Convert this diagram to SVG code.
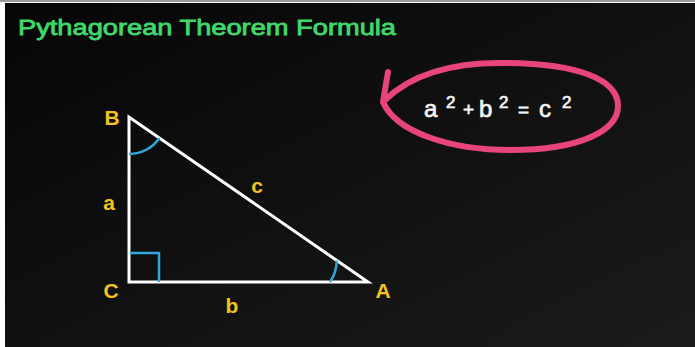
<svg xmlns="http://www.w3.org/2000/svg" width="695" height="347" viewBox="0 0 695 347">
  <defs>
    <linearGradient id="bg" x1="0" y1="0" x2="1" y2="1">
      <stop offset="0" stop-color="#060606"/>
      <stop offset="1" stop-color="#1b1b1b"/>
    </linearGradient>
    <style>
      .lbl { font-family: "Liberation Sans", Arial, sans-serif; font-size: 21px; font-weight: bold; fill: #f2c21e; text-anchor: middle; }
      .side { stroke: #ffffff; stroke-width: 3; fill: none; stroke-linecap: round; stroke-linejoin: miter; }
      .ang { stroke: #2fa8dc; stroke-width: 2.5; fill: none; }
      .fx { font-family: "Liberation Sans", Arial, sans-serif; font-size: 24px; fill: #f4f4f4; stroke: #f4f4f4; stroke-width: 0.7; }
      .sup { font-size: 17px; }
      .op { font-size: 19px; }
    </style>
  </defs>
  <rect x="0" y="0" width="695" height="347" fill="#ffffff"/>
  <rect x="5" y="3" width="690" height="344" fill="url(#bg)"/>
  <rect x="0" y="0" width="695" height="2" fill="#9a9a9a"/>

  <text id="title" x="18" y="35" font-family="'Liberation Sans', Arial, sans-serif" font-size="22" fill="#3fd96a" stroke="#3fd96a" stroke-width="0.8" textLength="378" lengthAdjust="spacingAndGlyphs">Pythagorean Theorem Formula</text>

  <g id="triangle">
    <path class="side" d="M129,117 L129,282 L368,282 Z"/>
    <path class="ang" d="M130,253 L159,253 L159,282"/>
    <path class="ang" d="M129,154 A37,37 0 0 0 159.5,138"/>
    <path class="ang" d="M330,282 A38,38 0 0 0 336.7,260.4"/>
  </g>

  <g id="labels">
    <text class="lbl" x="112" y="125">B</text>
    <text class="lbl" x="111" y="298">C</text>
    <text class="lbl" x="383" y="298">A</text>
    <text class="lbl" x="109" y="210">a</text>
    <text class="lbl" x="232" y="313">b</text>
    <text class="lbl" x="257" y="193">c</text>
  </g>

  <g id="formula">
    <path d="M388,72 L383,102 C396,132 450,150 510,150 C582,150 618,130 618,106 C618,80 580,63 500,63 C452,63 412,74 385,100" fill="none" stroke="#e8447e" stroke-width="6" stroke-linecap="round" stroke-linejoin="round"/>
    <text class="fx" y="117">
      <tspan x="424">a</tspan><tspan class="sup" x="446" y="108">2</tspan><tspan class="op" x="463" y="116">+</tspan><tspan x="479" y="117">b</tspan><tspan class="sup" x="499" y="108">2</tspan><tspan class="op" x="518" y="116">=</tspan><tspan x="539" y="117">c</tspan><tspan class="sup" x="562" y="108">2</tspan>
    </text>
  </g>
</svg>
